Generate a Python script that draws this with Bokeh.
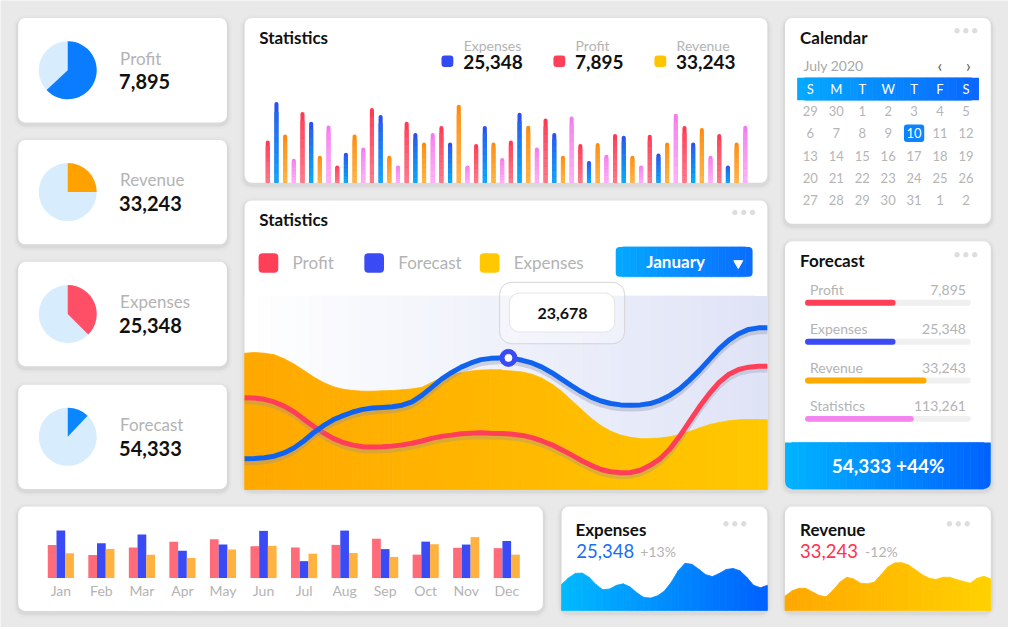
import numpy as np
from math import pi
from bokeh.plotting import figure
from bokeh.models import Range1d
from bokeh.core.properties import value
from bokeh.embed import file_html
from bokeh.resources import INLINE

# ---------------- data ----------------
kpi_names = ["Profit", "Revenue", "Expenses", "Forecast"]
kpi_values = ["7,895", "33,243", "25,348", "54,333"]
kpi_share = [0.63, 0.25, 0.375, 0.12]
kpi_colors = ["#0a7cff", "#ffa200", "#ff4f66", "#0a86ff"]

stat_bars = [130, 248, 148, 74, 217, 187, 83, 176, 53, 92, 148, 108, 229, 208,
             83, 53, 187, 153, 124, 153, 174, 124, 239, 53, 119, 174, 124, 76,
             130, 215, 175, 108, 197, 153, 83, 203, 119, 67, 122, 86, 150, 144,
             83, 53, 147, 90, 124, 212, 174, 124, 168, 83, 150, 53, 124, 175]
stat_bar_top = ["#ff3a55", "#2b52f0", "#ff8c10", "#f47cf0"]
stat_bar_bottom = ["#ff7888", "#05aafb", "#ffb445", "#ffb0f6"]
stat_legend = ["Expenses", "Profit", "Revenue"]
stat_legend_values = ["25,348", "7,895", "33,243"]
stat_legend_colors = ["#3349f2", "#ff3f58", "#ffc400"]

# main chart: position along the month (0..531) and series levels
area_x = list(range(0, 261, 10)) + list(range(262, 523, 10)) + [531]
forecast_line = [31.5, 31.8, 32.5, 34.2, 37.5, 42.5, 49.8, 58.2, 65.5, 71.5, 75.8, 79.5,
                 82.2, 83.5, 84.2, 84.8, 86.5, 89.8, 96.5, 104.8, 113.2, 119.8, 125.5,
                 129.8, 133.2, 134.5, 135.0,
                 135.0, 134.5, 132.5, 129.8, 125.5, 119.8, 113.2, 106.5, 100.2, 94.8,
                 90.8, 88.2, 86.8, 86.5, 86.8, 88.2, 91.5, 96.5, 103.2, 112.2, 122.2,
                 133.2, 144.2, 153.2, 159.8, 164.2, 165.8, 165.8]
profit_line = [94.2, 93.8, 92.5, 89.8, 85.5, 79.8, 72.2, 64.8, 58.2, 52.5, 48.2, 45.5,
               43.8, 43.5, 43.8, 44.5, 45.8, 47.5, 49.8, 52.5, 54.5, 55.8, 57.2, 57.8,
               58.2, 57.8, 57.5,
               57.5, 56.8, 55.5, 53.2, 49.8, 45.8, 40.8, 35.5, 29.8, 24.8, 20.5, 18.2,
               17.2, 17.5, 19.8, 24.8, 31.5, 41.5, 54.8, 69.8, 84.8, 98.2, 109.8, 118.2,
               123.2, 125.5, 126.5, 126.5]
expenses_area = [139.8, 140.5, 139.8, 138.2, 134.2, 128.8, 122.2, 115.5, 109.8, 105.5,
                 102.8, 101.5, 100.8, 100.8, 101.2, 101.5, 102.2, 103.2, 104.8, 109.8,
                 114.8, 118.2, 119.8, 121.5, 122.5, 122.8, 122.8,
                 122.2, 121.5, 120.5, 118.2, 114.2, 108.2, 100.8, 91.5, 82.2, 73.2, 65.5,
                 59.8, 55.8, 53.5, 52.2, 52.2, 52.8, 54.2, 56.5, 59.5, 63.2, 66.5, 68.8,
                 70.5, 71.5, 71.8, 71.8, 71.5]
tip_x, tip_level, tip_label = 268, 135.0, "23,678"
main_legend = ["Profit", "Forecast", "Expenses"]
main_legend_colors = ["#ff3f58", "#3a4af5", "#ffc800"]

cal_month = "July 2020"
weekdays = ["S", "M", "T", "W", "T", "F", "S"]
cal_days = [[29, 30, 1, 2, 3, 4, 5],
            [6, 7, 8, 9, 10, 11, 12],
            [13, 14, 15, 16, 17, 18, 19],
            [20, 21, 22, 23, 24, 25, 26],
            [27, 28, 29, 30, 31, 1, 2]]
cal_selected = 10

fc_labels = ["Profit", "Expenses", "Revenue", "Statistics"]
fc_values = ["7,895", "25,348", "33,243", "113,261"]
fc_share = [0.546, 0.546, 0.733, 0.656]
fc_colors = ["#ff3f58", "#3a4af5", "#ffaa00", "#f484ef"]
fc_total = "54,333 +44%"

months = ["Jan", "Feb", "Mar", "Apr", "May", "Jun", "Jul", "Aug", "Sep", "Oct", "Nov", "Dec"]
m_red = [102, 71, 94, 112, 119, 98, 94, 102, 121, 72, 93, 92]
m_blue = [146, 107, 134, 84, 103, 145, 52, 146, 89, 112, 103, 114]
m_orange = [76, 89, 72, 62, 88, 99, 75, 77, 65, 104, 126, 72]

expenses_wave = [26.7, 33.3, 38, 38.3, 34, 26.7, 21.3, 22, 25.7, 27.3, 24, 18, 13.3,
                 12.7, 15, 20, 29, 40.7, 48.3, 47.3, 42.3, 36.7, 34.7, 38, 42, 43,
                 40.7, 34, 25.7, 23.3, 25.7]
revenue_wave = [14.7, 20, 22.7, 22.7, 19, 15.3, 14, 20.7, 29, 34, 32.3, 28, 27.3, 29,
                36.7, 44.7, 48.7, 49, 46.7, 41.7, 36.7, 33, 31.7, 34, 34, 31.7, 29.7,
                28, 33, 35, 32.3]

# ---------------- figure ----------------
BG = "#e9e9ea"
FONT = value("Lato")
W, H = 1008, 627          # pixel size of the figure
WD, HD = 1024, 643        # layout units spanned by the figure

p = figure(width=W, height=H, x_range=Range1d(0, WD), y_range=Range1d(HD, 0),
           output_backend="svg", toolbar_location=None, min_border=0,
           x_axis_location=None, y_axis_location=None,
           background_fill_color=BG, border_fill_color=BG, outline_line_color=None)
p.grid.visible = False


def add_x(name, a, pa, b, pb):
    k = (b - a) / (pb - pa)
    s = a - pa * k
    p.extra_x_ranges[name] = Range1d(s, s + WD * k)


def add_y(name, a, pa, b, pb):
    k = (b - a) / (pa - pb)
    s = a - (HD - pa) * k
    p.extra_y_ranges[name] = Range1d(s, s + HD * k)


def mix(c0, c1, t):
    a = [int(c0[i:i + 2], 16) for i in (1, 3, 5)]
    b = [int(c1[i:i + 2], 16) for i in (1, 3, 5)]
    return "#%02x%02x%02x" % tuple(round(a[k] + (b[k] - a[k]) * t) for k in range(3))


def card(l, r, t, b, rad=7):
    for i, a in [(5, 0.015), (3, 0.02), (2, 0.03)]:
        p.quad(left=l - i, right=r + i, top=t - i + 2, bottom=b + i + 2, fill_color="black",
               fill_alpha=a, line_color=None, border_radius=rad + i)
    p.quad(left=l, right=r, top=t, bottom=b, fill_color="white", line_color=None, border_radius=rad)


def txt(x, y, s, size=14, color="#111111", bold=False, align="left", xname="default", yname="default"):
    p.text(x=x if isinstance(x, list) else [x], y=y if isinstance(y, list) else [y],
           text=s if isinstance(s, list) else [s], text_font=FONT,
           text_font_size=f"{size}px", text_color=color,
           text_font_style="bold" if bold else "normal", text_align=align,
           text_baseline="middle", x_range_name=xname, y_range_name=yname)


def grad_box(l, r, t, b, c0, c1, n=30, rl=None, rr=None):
    e = np.linspace(l, r, n + 1)
    cols = [mix(c0, c1, (i + 0.5) / n) for i in range(n)]
    p.quad(left=e[1:-2], right=e[2:-1], top=t, bottom=b, fill_color=cols[1:-1],
           line_color=cols[1:-1], line_width=0.7)
    p.quad(left=[e[0]], right=[e[1] + 0.3], top=t, bottom=b, fill_color=cols[0],
           line_color=None, border_radius=rl if rl else 0)
    p.quad(left=[e[-2] - 0.3], right=[e[-1]], top=t, bottom=b, fill_color=cols[-1],
           line_color=None, border_radius=rr if rr else 0)


def grad_area(xs, ys, c0, c1, xname, yname):
    n = len(xs) - 1
    xx, yy, cols = [], [], []
    for i in range(n):
        xx.append([xs[i], xs[i + 1], xs[i + 1], xs[i]])
        yy.append([ys[i], ys[i + 1], 0, 0])
        cols.append(mix(c0, c1, i / max(n - 1, 1)))
    p.patches(xs=xx, ys=yy, fill_color=cols, line_color=cols, line_width=0.8,
              x_range_name=xname, y_range_name=yname)


def dots(x, y):
    p.scatter(x=[x, x + 9, x + 18], y=[y] * 3, size=4.5, color="#dddddd")


GRAY = "#b3b3b3"

# ---------------- cards ----------------
kpi_tops = [18, 143, 268, 394]
for t in kpi_tops:
    card(18, 230, t, t + 107)
card(248, 779, 18, 187)
card(248, 779, 205, 501)
card(797, 1006, 18, 229)
card(797, 1006, 247, 501)
card(18, 551, 519, 626)
card(570, 779, 519, 626)
card(797, 1006, 519, 626)

# ---------------- KPI pies ----------------
for t, name, val, share, col in zip(kpi_tops, kpi_names, kpi_values, kpi_share, kpi_colors):
    cy = t + 53.5
    p.circle(x=[68.3], y=[cy], radius=29, radius_units="screen", fill_color="#d7ecfc", line_color=None)
    p.wedge(x=[68.3], y=[cy], radius=29, radius_units="screen", start_angle=pi / 2,
            end_angle=pi / 2 - 2 * pi * share, direction="clock", fill_color=col, line_color=None)
    txt(121.5, cy - 12.5, name, 17, GRAY)
    txt(120.5, cy + 12, val, 20, "#111111", bold=True)

# ---------------- top statistics bars ----------------
txt(262.9, 38.3, "Statistics", 17, bold=True)
add_x("sbx", 0, 271.5, len(stat_bars) - 1, 756.6)
add_y("sby", 0, 187, max(stat_bars), 104)
bx = np.arange(len(stat_bars))
bv = np.array(stat_bars, dtype=float)
p.vbar(x=bx, top=bv, bottom=0, width=0.47,
       fill_color=[stat_bar_top[i % 4] for i in bx], line_color=None,
       border_radius=(2, 2, 0, 0), x_range_name="sbx", y_range_name="sby")
NSEG = 8
for j in range(NSEG - 1):
    f = j / NSEG
    p.vbar(x=bx, top=bv * (j + 1) / NSEG + 0.3, bottom=bv * j / NSEG, width=0.47,
           fill_color=[mix(stat_bar_bottom[i % 4], stat_bar_top[i % 4], f) for i in bx],
           line_color=None, x_range_name="sbx", y_range_name="sby")
for sx, lab, v, c in zip([454.0, 567.7, 670.3], stat_legend, stat_legend_values, stat_legend_colors):
    p.quad(left=sx - 6, right=sx + 6, top=56.3, bottom=68.3, fill_color=c, line_color=None, border_radius=3)
    txt(sx + 16.5, 45.7, lab, 14, GRAY)
    txt(sx + 16, 62.7, v, 19, "#111111", bold=True)

# ---------------- main statistics chart ----------------
txt(262.9, 225, "Statistics", 17, bold=True)
dots(746, 217.3)
for cx, lab, c in zip([272.2, 379.6, 496.9], main_legend, main_legend_colors):
    p.quad(left=cx - 10, right=cx + 10, top=259.2, bottom=279.2, fill_color=c, line_color=None, border_radius=4)
    txt(cx + 24.5, 269, lab, 17, GRAY)
grad_box(625, 764, 252.7, 283.3, "#05aaff", "#0a6cff", 20, rl=(4, 0, 0, 4), rr=(0, 4, 4, 0))
txt(685.8, 268, "January", 17, "white", bold=True, align="center")
p.scatter(x=[749.5], y=[269.5], marker="inverted_triangle", size=9, color="white")

grad_box(248, 779, 303, 501, "#ffffff", "#dfe3f6", 40)
add_x("ax", 0, 248, 531, 779)
add_y("ay", 0, 501.5, 100, 401.5)
add_y("ays", 0, 505.5, 100, 405.5)
grad_area(area_x, expenses_area, "#ffa800", "#ffc800", "ax", "ay")
p.line(area_x, profit_line, line_width=5, color="#8a8fa8", alpha=0.3, x_range_name="ax", y_range_name="ays")
p.line(area_x, profit_line, line_width=5, color="#ff3f5a", x_range_name="ax", y_range_name="ay")
p.line(area_x, forecast_line, line_width=5, color="#8a8fa8", alpha=0.35, x_range_name="ax", y_range_name="ays")
p.line(area_x, forecast_line, line_width=5, color="#0f63ef", x_range_name="ax", y_range_name="ay")

# tooltip
p.quad(left=507, right=634, top=289, bottom=352, fill_color="white", fill_alpha=0.35,
       line_color="#d6d6d6", line_width=1, border_radius=12)
p.quad(left=517, right=624, top=300, bottom=340, fill_color="white", line_color="#e4e4e4",
       line_width=1, border_radius=10)
txt(571, 320.7, tip_label, 16, "#111111", bold=True, align="center")
p.scatter(x=[tip_x], y=[tip_level], size=17, color="#3a4af5", x_range_name="ax", y_range_name="ay")
p.scatter(x=[tip_x], y=[tip_level], size=7, color="white", x_range_name="ax", y_range_name="ay")

# ---------------- calendar ----------------
txt(812.3, 38.3, "Calendar", 17, bold=True)
dots(971.7, 31)
txt(815.7, 66.7, cal_month, 14, "#a8a8a8")
txt(954.3, 66.7, "‹", 17, "#555555", align="center")
txt(983.3, 66.7, "›", 17, "#555555", align="center")
grad_box(809.3, 994, 79.3, 102.3, "#05aaff", "#0a66ff", 24)
col_x = [822.7 + i * 26.35 for i in range(7)]
txt(col_x, [91] * 7, weekdays, 13, "white", align="center")
for r, row in enumerate(cal_days):
    ry = 113.3 + r * 22.9
    for c, d in enumerate(row):
        col = "#b5b5b5"
        if d == cal_selected and r == 1:
            p.quad(left=col_x[c] - 10.3, right=col_x[c] + 10.3, top=ry - 9, bottom=ry + 9,
                   fill_color="#0a84ff", line_color=None, border_radius=3)
            col = "white"
        txt(col_x[c], ry, str(d), 13, col, align="center")

# ---------------- forecast card ----------------
txt(812.3, 266.7, "Forecast", 17, bold=True)
dots(971.7, 260.7)
add_x("fx", 0, 817.3, 1, 985.7)
bar_y = [310, 350, 389.7, 429]
for by, lab, v in zip(bar_y, fc_labels, fc_values):
    txt(822.3, by - 13.3, lab, 14, GRAY)
    txt(980.7, by - 13.3, v, 14, GRAY, align="right")
p.hbar(y=bar_y, left=0, right=1, height=6, fill_color="#f0f0f0", line_color=None,
       border_radius=3, x_range_name="fx")
p.hbar(y=bar_y, left=0, right=fc_share, height=6, fill_color=fc_colors, line_color=None,
       border_radius=3, x_range_name="fx")
grad_box(797, 1006, 453.3, 501, "#00b4ff", "#0062ff", 30, rl=(0, 0, 0, 7), rr=(0, 0, 7, 0))
txt(901.7, 477.3, fc_total, 19, "white", bold=True, align="center")

# ---------------- monthly grouped bars ----------------
add_x("mx", 0, 61.3, 11, 514.3)
add_y("my", 0, 592.3, 146, 543.6)
mi = np.arange(12)
bw = 0.215
p.vbar(x=mi - bw, top=m_red, bottom=0, width=bw, fill_color="#ff6b78", line_color=None,
       x_range_name="mx", y_range_name="my")
p.vbar(x=mi, top=m_blue, bottom=0, width=bw, fill_color="#3a4af5", line_color=None,
       x_range_name="mx", y_range_name="my")
p.vbar(x=mi + bw, top=m_orange, bottom=0, width=bw, fill_color="#ffb240", line_color=None,
       x_range_name="mx", y_range_name="my")
txt(list(mi.astype(float)), [605.5] * 12, months, 14, GRAY, align="center", xname="mx")

# ---------------- bottom expenses / revenue ----------------
txt(584, 542.3, "Expenses", 17, bold=True)
dots(737, 536.7)
txt(585, 565, "25,348", 18.5, "#1a6ef5")
txt(650, 565.5, "+13%", 14, GRAY)
add_x("ewx", 0, 570, len(expenses_wave) - 1, 779)
add_y("ewy", 0, 625.5, 10, 615.5)
grad_area(list(range(len(expenses_wave))), expenses_wave, "#00b9ff", "#0062ff", "ewx", "ewy")

txt(812.3, 542.3, "Revenue", 17, bold=True)
dots(964, 536.7)
txt(812.3, 565, "33,243", 18.5, "#ff3050")
txt(878.3, 565.5, "-12%", 14, GRAY)
add_x("rwx", 0, 797, len(revenue_wave) - 1, 1006)
add_y("rwy", 0, 625.5, 10, 615.5)
grad_area(list(range(len(revenue_wave))), revenue_wave, "#ffa800", "#ffd000", "rwx", "rwy")

open("out.html", "w").write(file_html(p, INLINE))
